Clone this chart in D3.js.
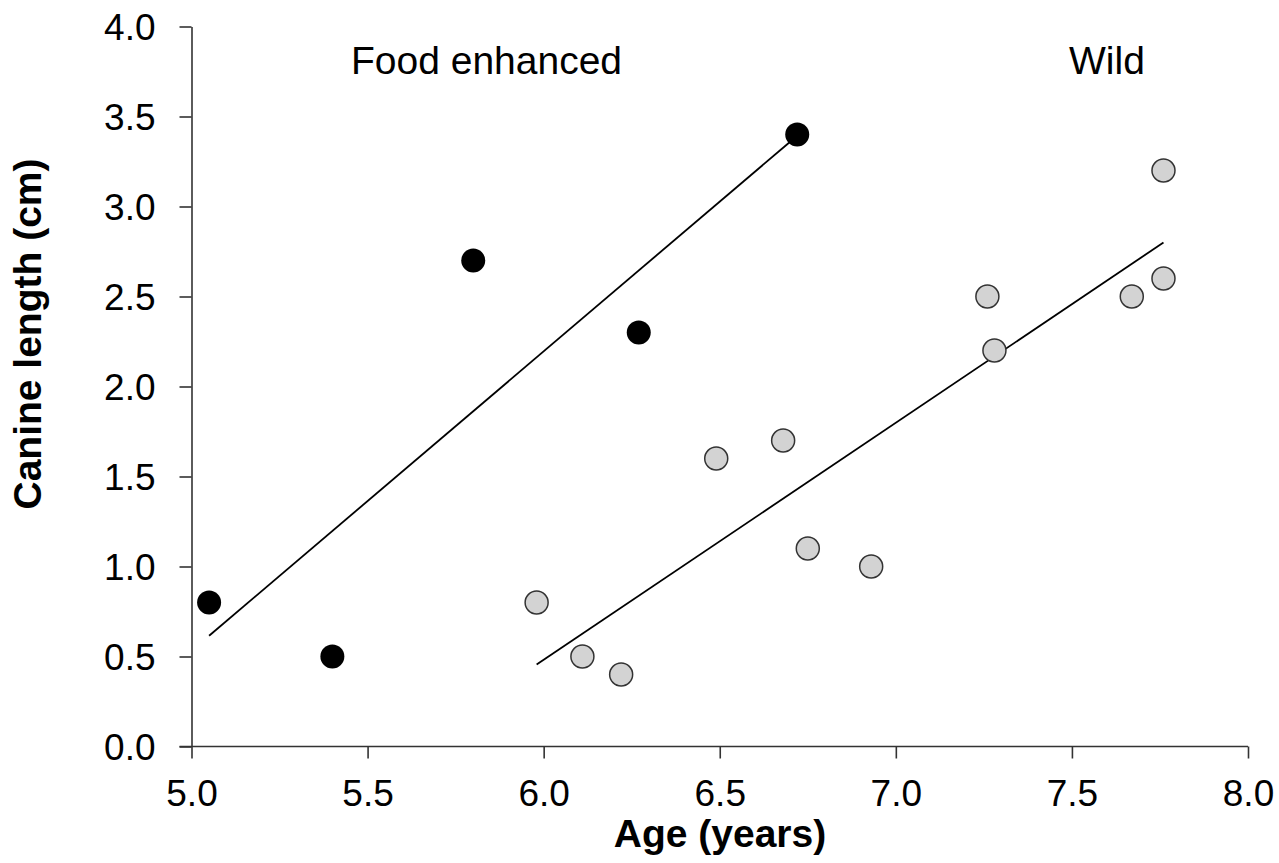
<!DOCTYPE html>
<html>
<head>
<meta charset="utf-8">
<script src="https://cdn.jsdelivr.net/npm/d3@7"></script>
<style>
  body { margin: 0; background: #fff; }
  svg text { font-family: "Liberation Sans", Arial, sans-serif; fill: #000; }
</style>
</head>
<body>
<div id="chart"></div>
<script>
const width = 1279;
const height = 863;

// Food enhanced group (black dots)
const fedAge = [5.05, 5.40, 5.80, 6.27, 6.72];
const fedCanine = [0.8, 0.5, 2.7, 2.3, 3.4];

// Wild group (grey dots)
const wildAge = [5.98, 6.11, 6.22, 6.49, 6.68, 6.75, 6.93, 7.26, 7.28, 7.67, 7.76, 7.76];
const wildCanine = [0.8, 0.5, 0.4, 1.6, 1.7, 1.1, 1.0, 2.5, 2.2, 2.5, 3.2, 2.6];

// Fitted lines, endpoints
const fedFitX = [5.05, 6.70];
const fedFitY = [0.615, 3.36];
const wildFitX = [5.98, 7.76];
const wildFitY = [0.455, 2.80];

const xTicks = [5.0, 5.5, 6.0, 6.5, 7.0, 7.5, 8.0];
const yTicks = [0.0, 0.5, 1.0, 1.5, 2.0, 2.5, 3.0, 3.5, 4.0];

const svg = d3.select("#chart").append("svg")
    .attr("width", width)
    .attr("height", height);

const x = d3.scaleLinear().domain([5, 8]).range([191.5, 1248]);
const y = d3.scaleLinear().domain([0, 4]).range([746.5, 26.5]);

const axisColor = "#333";

// axes
const xAxis = svg.append("g")
    .attr("transform", `translate(0,${y(0)})`)
    .call(d3.axisBottom(x).tickValues(xTicks).tickFormat(d3.format(".1f")).tickSizeInner(12).tickSizeOuter(0).tickPadding(21));
xAxis.selectAll("text").style("font-size", "37px").attr("dy", "0.71em");

const yAxis = svg.append("g")
    .attr("transform", `translate(${x(5)},0)`)
    .call(d3.axisLeft(y).tickValues(yTicks).tickFormat(d3.format(".1f")).tickSizeInner(12).tickSizeOuter(0).tickPadding(24));
yAxis.selectAll("text").style("font-size", "37px").attr("dy", "0.36em");

svg.selectAll(".domain, .tick line")
    .attr("stroke", axisColor)
    .attr("stroke-width", 1.6);

// extend x axis line left to meet y tick
xAxis.select(".domain").attr("d", `M${x(5) - 12},0H${x(8)}`);

// axis titles
svg.append("text")
    .attr("x", 720)
    .attr("y", 847)
    .attr("text-anchor", "middle")
    .style("font-size", "39px")
    .style("font-weight", "bold")
    .text("Age (years)");

svg.append("text")
    .attr("transform", "translate(41,334) rotate(-90)")
    .attr("text-anchor", "middle")
    .style("font-size", "39px")
    .style("font-weight", "bold")
    .text("Canine length (cm)");

// group labels
svg.append("text")
    .attr("x", 351)
    .attr("y", 74)
    .style("font-size", "39px")
    .text("Food enhanced");

svg.append("text")
    .attr("x", 1069)
    .attr("y", 74)
    .style("font-size", "39px")
    .text("Wild");

// regression lines
const line = d3.line().x(d => x(d[0])).y(d => y(d[1]));
svg.append("path")
    .attr("d", line(d3.zip(fedFitX, fedFitY)))
    .attr("fill", "none")
    .attr("stroke", "#000")
    .attr("stroke-width", 1.8);
svg.append("path")
    .attr("d", line(d3.zip(wildFitX, wildFitY)))
    .attr("fill", "none")
    .attr("stroke", "#000")
    .attr("stroke-width", 1.8);

// points
svg.selectAll(".fed")
    .data(d3.zip(fedAge, fedCanine))
    .enter().append("circle")
    .attr("class", "fed")
    .attr("cx", d => x(d[0]))
    .attr("cy", d => y(d[1]))
    .attr("r", 12)
    .attr("fill", "#000");

svg.selectAll(".wild")
    .data(d3.zip(wildAge, wildCanine))
    .enter().append("circle")
    .attr("class", "wild")
    .attr("cx", d => x(d[0]))
    .attr("cy", d => y(d[1]))
    .attr("r", 11.5)
    .attr("fill", "#d3d3d3")
    .attr("stroke", "#333")
    .attr("stroke-width", 1.5);
</script>
</body>
</html>
